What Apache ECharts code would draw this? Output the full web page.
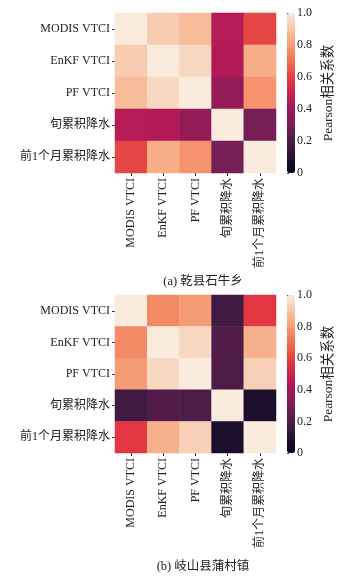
<!DOCTYPE html>
<html>
<head>
<meta charset="utf-8">
<script src="https://cdn.jsdelivr.net/npm/echarts@6/dist/echarts.min.js"></script>
<style>
html,body{margin:0;padding:0;background:#fff;}
#chart{width:350px;height:581px;}
</style>
</head>
<body>
<div id="chart"></div>
<script>
// Variables compared in both correlation matrices
const categories = ['MODIS VTCI', 'EnKF VTCI', 'PF VTCI', '旬累积降水', '前1个月累积降水'];

// Pearson correlation matrix, 乾县石牛乡 (rows top to bottom)
const matrixA = [
  [1.00, 0.92, 0.88, 0.45, 0.61],
  [0.92, 1.00, 0.95, 0.44, 0.84],
  [0.88, 0.95, 1.00, 0.37, 0.78],
  [0.45, 0.44, 0.37, 1.00, 0.30],
  [0.61, 0.84, 0.78, 0.30, 1.00]
];

// Pearson correlation matrix, 岐山县蒲村镇
const matrixB = [
  [1.00, 0.76, 0.80, 0.17, 0.58],
  [0.76, 1.00, 0.95, 0.21, 0.85],
  [0.80, 0.95, 1.00, 0.20, 0.93],
  [0.17, 0.21, 0.20, 1.00, 0.07],
  [0.58, 0.85, 0.93, 0.07, 1.00]
];

const panelTitles = ['(a) 乾县石牛乡', '(b) 岐山县蒲村镇'];
const colorbarName = 'Pearson相关系数';
const colorbarTicks = [0, 0.2, 0.4, 0.6, 0.8, 1.0];

// seaborn "rocket" colormap, evenly spaced stops
const rocket = ['#03051a', '#35193e', '#701f57', '#ad1759', '#e13342', '#f37651', '#f6b48f', '#faebdd'];

const FONT = '"Liberation Serif", "Noto Sans CJK SC", serif';
const TXT = '#222';
const FS = 12;

function toCells(m) {
  const out = [];
  m.forEach((row, r) => row.forEach((v, c) => out.push([c, r, v])));
  return out;
}

const panels = [
  { top: 13, height: 160, titleY: 282 },
  { top: 295, height: 158, titleY: 567 }
];
const gridLeft = 115, gridWidth = 161;
const barLeft = 287, barWidth = 8;

const grid = [], xAxis = [], yAxis = [], series = [], visualMap = [], graphic = [];

panels.forEach((p, i) => {
  // heatmap grid
  grid.push({ left: gridLeft, top: p.top, width: gridWidth, height: p.height });
  xAxis.push({
    type: 'category', gridIndex: 2 * i, data: categories,
    axisLine: { show: false },
    axisTick: { show: true, alignWithLabel: true, length: 3, lineStyle: { color: '#333' } },
    axisLabel: { rotate: 90, margin: 5, fontFamily: FONT, fontSize: FS, color: TXT },
    splitLine: { show: false }
  });
  yAxis.push({
    type: 'category', gridIndex: 2 * i, data: categories, inverse: true,
    axisLine: { show: false },
    axisTick: { show: true, alignWithLabel: true, length: 3, lineStyle: { color: '#333' } },
    axisLabel: { margin: 5, fontFamily: FONT, fontSize: FS, color: TXT },
    splitLine: { show: false }
  });
  series.push({
    type: 'heatmap', xAxisIndex: 2 * i, yAxisIndex: 2 * i,
    data: toCells(i === 0 ? matrixA : matrixB),
    itemStyle: { borderWidth: 0 },
    emphasis: { disabled: true }
  });

  // colorbar tick axis
  grid.push({ left: barLeft, top: p.top, width: barWidth, height: p.height });
  xAxis.push({ type: 'value', gridIndex: 2 * i + 1, show: false, min: 0, max: 1 });
  yAxis.push({
    type: 'value', gridIndex: 2 * i + 1, position: 'right',
    min: colorbarTicks[0], max: colorbarTicks[colorbarTicks.length - 1], interval: 0.2,
    axisLine: { show: false },
    axisTick: { show: true, length: 2, lineStyle: { color: '#333' } },
    axisLabel: {
      fontFamily: FONT, fontSize: FS, color: TXT, margin: 2,
      formatter: v => (v === 0 ? '0' : v.toFixed(1))
    },
    splitLine: { show: false },
    name: colorbarName, nameLocation: 'middle', nameRotate: 90, nameGap: 27,
    nameTextStyle: { fontFamily: FONT, fontSize: 13.5, color: TXT }
  });

  visualMap.push({
    type: 'continuous', seriesIndex: i, min: 0, max: 1,
    calculable: false, realtime: false, hoverLink: false,
    orient: 'vertical', left: barLeft, top: p.top,
    itemWidth: barWidth, itemHeight: p.height, padding: 0,
    text: null, showLabel: false,
    inRange: { color: rocket }
  });

  // panel caption under each heatmap
  graphic.push({
    type: 'text', x: 203, y: p.titleY, silent: true,
    style: {
      text: panelTitles[i], align: 'center', verticalAlign: 'middle',
      fontFamily: FONT, fontSize: 12.5, fill: TXT
    }
  });
});

const chart = echarts.init(document.getElementById('chart'), null, { renderer: 'canvas' });
chart.setOption({
  animation: false,
  backgroundColor: '#fff',
  grid, xAxis, yAxis, series, visualMap, graphic
});
</script>
</body>
</html>
